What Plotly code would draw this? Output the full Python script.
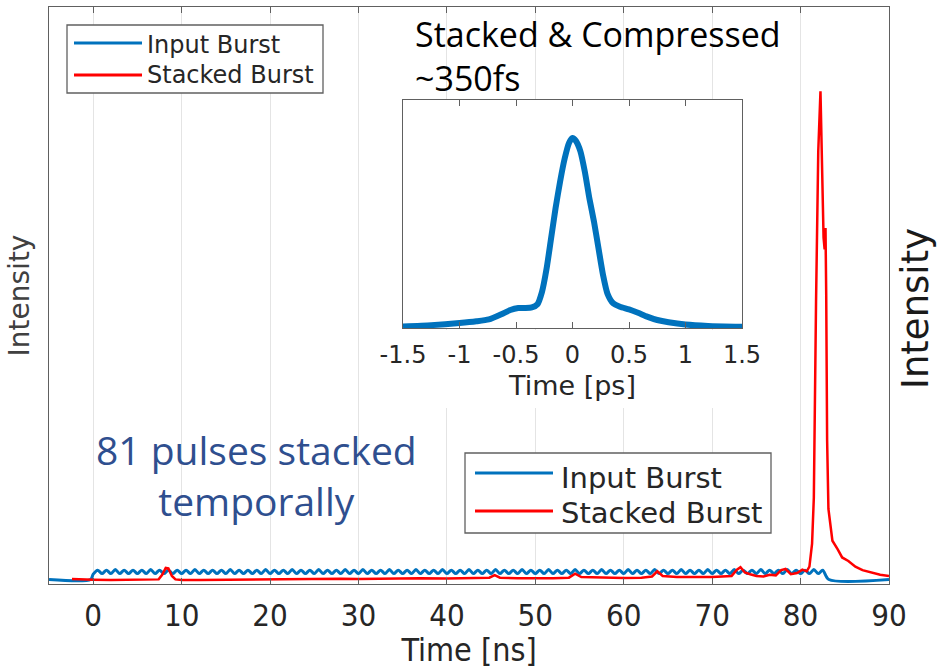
import plotly.graph_objects as go

# ---------------- data ----------------
# Input burst: flat background, then a train of pulses (one per ns), then off
input_base_t = [-5.0, -0.3]
input_base_y = [0.0078, 0.0078]
input_pulse_t = [k + 0.5 for k in range(83)]          # pulse centres [ns]
input_peak_y = [
    0.024, 0.024, 0.025, 0.024, 0.024, 0.024, 0.025, 0.024, 0.024, 0.024,
    0.024, 0.025, 0.024, 0.024, 0.024, 0.025, 0.024, 0.024, 0.024, 0.025,
    0.024, 0.024, 0.025, 0.024, 0.024, 0.025, 0.024, 0.024, 0.025, 0.024,
    0.025, 0.024, 0.024, 0.025, 0.024, 0.024, 0.025, 0.024, 0.024, 0.025,
    0.024, 0.024, 0.025, 0.024, 0.024, 0.025, 0.024, 0.024, 0.025, 0.024,
    0.024, 0.025, 0.024, 0.024, 0.025, 0.024, 0.024, 0.025, 0.024, 0.024,
    0.025, 0.024, 0.024, 0.025, 0.024, 0.024, 0.025, 0.024, 0.024, 0.025,
    0.024, 0.024, 0.025, 0.024, 0.024, 0.025, 0.024, 0.024, 0.025, 0.024,
    0.024, 0.025, 0.024,
]
input_trough_y = [
    0.017, 0.018, 0.018, 0.018, 0.018, 0.018, 0.018, 0.018, 0.018, 0.018,
    0.018, 0.018, 0.018, 0.018, 0.018, 0.018, 0.018, 0.018, 0.018, 0.018,
    0.018, 0.018, 0.018, 0.018, 0.018, 0.018, 0.018, 0.018, 0.018, 0.018,
    0.018, 0.018, 0.018, 0.018, 0.018, 0.018, 0.018, 0.018, 0.018, 0.018,
    0.018, 0.018, 0.018, 0.018, 0.018, 0.018, 0.018, 0.018, 0.018, 0.018,
    0.018, 0.018, 0.018, 0.018, 0.018, 0.018, 0.018, 0.018, 0.018, 0.018,
    0.018, 0.018, 0.018, 0.018, 0.018, 0.018, 0.018, 0.018, 0.018, 0.018,
    0.018, 0.018, 0.018, 0.018, 0.018, 0.018, 0.018, 0.018, 0.018, 0.018,
    0.018, 0.018, 0.018,
]
input_tail_t = [83.2, 90.0]
input_tail_y = [0.0078, 0.0078]

# Stacked burst: intensity after the stacking cavities [ns, a.u.]
stacked_t = [
    -2.4, -1.0, 0.0, 2.0, 4.0, 6.0, 7.4, 7.8, 8.2, 8.5, 8.9, 9.3, 10.0, 12.0,
    15.0, 18.0, 20.0, 22.0, 24.0, 26.0, 28.0, 30.0, 32.0, 34.0, 36.0, 37.0,
    40.0, 43.0, 44.8, 45.4, 46.0, 48.0, 50.0, 52.0, 53.8, 54.5, 55.2, 57.0,
    60.0, 62.0, 63.2, 63.8, 64.4, 66.0, 68.0, 70.0, 72.2, 72.8, 73.2, 73.7,
    74.3, 75.0, 75.8, 76.5, 77.2, 77.8, 78.3, 78.9, 79.6, 80.2, 80.7, 81.0,
    81.3, 81.5, 81.75, 82.0, 82.25, 82.45, 82.6, 82.72, 82.82, 82.9, 83.0,
    83.15, 83.6, 84.2, 84.7, 85.4, 86.2, 87.0, 88.0, 89.0, 90.0,
]
stacked_y = [
    0.0085, 0.0085, 0.0075, 0.007, 0.007, 0.0075, 0.008, 0.016, 0.028, 0.027,
    0.014, 0.008, 0.007, 0.007, 0.0075, 0.007, 0.008, 0.0085, 0.0085, 0.009,
    0.009, 0.0085, 0.009, 0.0095, 0.011, 0.010, 0.0095, 0.010, 0.011, 0.0155,
    0.011, 0.010, 0.0095, 0.010, 0.011, 0.018, 0.012, 0.011, 0.0105, 0.011,
    0.013, 0.022, 0.014, 0.012, 0.012, 0.012, 0.014, 0.025, 0.029, 0.020,
    0.017, 0.014, 0.013, 0.016, 0.015, 0.024, 0.026, 0.017, 0.019, 0.025,
    0.022, 0.030, 0.07, 0.15, 0.49, 0.75, 0.854, 0.72, 0.60, 0.58, 0.617,
    0.50, 0.25, 0.13, 0.075, 0.06, 0.046, 0.040, 0.030, 0.024, 0.020, 0.016,
    0.014,
]

# Compressed pulse (inset) [ps, normalised]
pulse_t = [
    -1.5, -1.25, -1.0, -0.85, -0.74, -0.63, -0.55, -0.48, -0.42, -0.36, -0.31,
    -0.27, -0.23, -0.19, -0.15, -0.11, -0.07, -0.03, 0.0, 0.03, 0.07, 0.11,
    0.15, 0.19, 0.23, 0.27, 0.31, 0.36, 0.42, 0.5, 0.58, 0.66, 0.75, 0.85,
    1.0, 1.2, 1.5,
]
pulse_y = [
    0.008, 0.015, 0.026, 0.035, 0.045, 0.072, 0.095, 0.105, 0.105, 0.108,
    0.125, 0.19, 0.31, 0.47, 0.63, 0.77, 0.89, 0.975, 1.0, 0.985, 0.93, 0.82,
    0.68, 0.56, 0.42, 0.28, 0.18, 0.13, 0.112, 0.098, 0.08, 0.06, 0.042, 0.03,
    0.018, 0.011, 0.007,
]

ns_ticks = [0, 10, 20, 30, 40, 50, 60, 70, 80, 90]
ps_ticks = [-1.5, -1.0, -0.5, 0.0, 0.5, 1.0, 1.5]
ps_ticktext = ["-1.5", "-1", "-0.5", "0", "0.5", "1", "1.5"]

# ---------------- assemble input burst line ----------------
input_t = list(input_base_t) + [0.0]
input_y = list(input_base_y) + [input_trough_y[0]]
for k, tp in enumerate(input_pulse_t):
    input_t.append(tp)
    input_y.append(input_peak_y[k])
    if k + 1 < len(input_trough_y):
        input_t.append(tp + 0.5)
        input_y.append(input_trough_y[k + 1])
input_t += input_tail_t
input_y += input_tail_y

# ---------------- layout helpers (pixel -> paper / data) ----------------
W, H = 938, 669
PL, PR, PT, PB = 49, 889, 7, 584
XMIN, XMAX = -5, 90


def fx(px):
    return (px - PL) / (PR - PL)


def fy(py):
    return (PB - py) / (PB - PT)


def xd(px):
    return XMIN + fx(px) * (XMAX - XMIN)


BLUE = "#0072BD"
RED = "#FF0000"
FRAME = "#606060"
TXT = "#262626"
COND = "DejaVu Sans Condensed, DejaVu Sans"

fig = go.Figure()

fig.add_trace(go.Scatter(x=input_t, y=input_y, mode="lines",
                         line=dict(color=BLUE, width=3, shape="spline", smoothing=0.8),
                         showlegend=False, xaxis="x", yaxis="y"))
fig.add_trace(go.Scatter(x=stacked_t, y=stacked_y, mode="lines",
                         line=dict(color=RED, width=2.5),
                         showlegend=False, xaxis="x", yaxis="y"))
fig.add_trace(go.Scatter(x=pulse_t, y=pulse_y, mode="lines",
                         line=dict(color=BLUE, width=6, shape="spline", smoothing=0.6),
                         showlegend=False, xaxis="x2", yaxis="y2"))

shapes = []
annotations = []

# white area under the inset's labels (hides the main grid there)
shapes.append(dict(type="rect", xref="x", yref="y", layer="between",
                   x0=xd(372), x1=xd(772), y0=fy(408), y1=fy(330),
                   fillcolor="white", line=dict(width=0)))


def legend_box(x0, x1, y0, y1, rows, line_x0, line_x1, text_x, size):
    shapes.append(dict(type="rect", xref="x", yref="y", layer="between",
                       x0=xd(x0), x1=xd(x1), y0=fy(y1), y1=fy(y0),
                       fillcolor="white", line=dict(color=FRAME, width=1.3)))
    for label, color, ly, ty in rows:
        shapes.append(dict(type="line", xref="x", yref="y", layer="between",
                           x0=xd(line_x0), x1=xd(line_x1), y0=fy(ly), y1=fy(ly),
                           line=dict(color=color, width=3)))
        annotations.append(dict(text=label, xref="paper", yref="paper",
                                x=fx(text_x), y=fy(ty), xanchor="left", yanchor="middle",
                                showarrow=False,
                                font=dict(family="DejaVu Sans", size=size, color=TXT)))


legend_box(67, 323, 25, 93,
           [("Input Burst", BLUE, 43, 45), ("Stacked Burst", RED, 75, 75)],
           74, 142, 145, 24)
legend_box(465, 771, 453, 533,
           [("Input Burst", BLUE, 473, 478), ("Stacked Burst", RED, 511, 513)],
           475, 553, 559, 29)

annotations += [
    dict(text="Stacked & Compressed<br>~350fs", xref="paper", yref="paper",
         x=fx(413), y=fy(56), xanchor="left", yanchor="middle", align="left",
         showarrow=False,
         font=dict(family="Open Sans", size=34, color="#000000")),
    dict(text="81 pulses stacked<br>temporally", xref="paper", yref="paper",
         x=fx(256), y=fy(475), xanchor="center", yanchor="middle", align="center",
         showarrow=False,
         font=dict(family="Open Sans", size=39, color="#2f4f8f")),
    dict(text="Intensity", xref="paper", yref="paper", textangle=-90,
         x=fx(915), y=fy(308), xanchor="center", yanchor="middle", showarrow=False,
         font=dict(family="DejaVu Sans", size=37, color="#1a1a1a")),
]

fig.update_layout(
    width=W, height=H,
    margin=dict(l=PL, r=W - PR, t=PT, b=H - PB, autoexpand=False),
    paper_bgcolor="white", plot_bgcolor="white",
    showlegend=False,
    shapes=shapes, annotations=annotations,
    xaxis=dict(range=[XMIN, XMAX], domain=[0, 1], anchor="y",
               tickvals=ns_ticks, ticks="inside", ticklen=6, tickwidth=1.2,
               tickcolor=FRAME, showline=True, linecolor=FRAME, linewidth=1.4,
               mirror="ticks", showgrid=True, gridcolor="#e4e4e4", gridwidth=1,
               zeroline=False, ticklabelstandoff=4,
               tickfont=dict(family=COND, size=31, color=TXT),
               title=dict(text="Time [ns]", standoff=9,
                          font=dict(family=COND, size=32, color=TXT))),
    yaxis=dict(range=[0, 1], domain=[0, 1], anchor="x",
               showticklabels=False, ticks="", showline=True, linecolor=FRAME,
               linewidth=1.4, mirror=True, showgrid=False, zeroline=False,
               title=dict(text="Intensity", standoff=10,
                          font=dict(family="DejaVu Sans", size=28, color="#404040"))),
    xaxis2=dict(range=[-1.5, 1.5], domain=[fx(403), fx(742)], anchor="y2",
                tickvals=ps_ticks, ticktext=ps_ticktext, ticks="inside", ticklen=6,
                tickwidth=1.2, tickcolor=FRAME, showline=True, linecolor=FRAME,
                linewidth=1.2, mirror="ticks", showgrid=False, zeroline=False,
                ticklabelstandoff=5,
                tickfont=dict(family="DejaVu Sans", size=24, color=TXT),
                title=dict(text="Time [ps]", standoff=8,
                           font=dict(family="DejaVu Sans", size=27, color=TXT))),
    yaxis2=dict(range=[0, 1.2], domain=[fy(328), fy(100)], anchor="x2",
                showticklabels=False, ticks="", showline=True, linecolor=FRAME,
                linewidth=1.2, mirror=True, showgrid=False, zeroline=False),
)

fig.write_html("out.html")
